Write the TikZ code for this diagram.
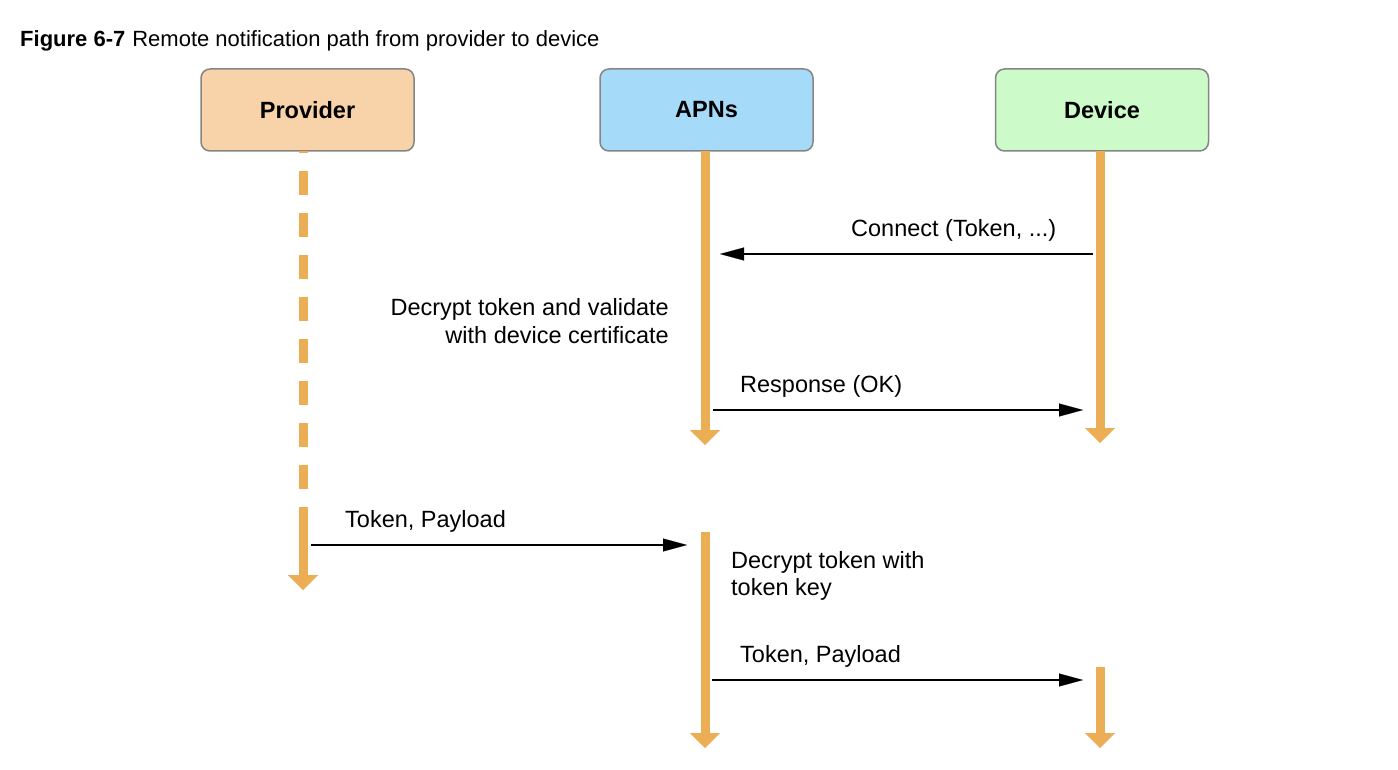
\documentclass[tikz,border=0pt]{standalone}
\usepackage{fontspec}
\setmainfont{Liberation Sans}
\usetikzlibrary{arrows.meta}
\definecolor{provfill}{HTML}{F8D2A8}
\definecolor{apnsfill}{HTML}{A6DAF9}
\definecolor{devfill}{HTML}{CCFBC9}
\definecolor{boxline}{HTML}{858585}
\definecolor{lifec}{HTML}{EBAE55}
\begin{document}
\begin{tikzpicture}[x=1pt,y=-1pt,
  actor/.style={draw=boxline,line width=1.5pt,rounded corners=9pt,minimum width=213pt,minimum height=82pt,inner sep=0pt,font=\fontsize{23.5}{28}\selectfont\bfseries},
  life/.style={draw=lifec,line width=9pt,-{Triangle[width=30pt,length=15pt,line width=0.1pt]}},
  dashlife/.style={draw=lifec,line width=9pt,dash pattern=on 24pt off 18pt,dash phase=22pt},
  msg/.style={draw=black,line width=2pt,-{Triangle[width=13pt,length=24pt,line width=0.1pt]}},
  lbl/.style={font=\fontsize{23.5}{28}\selectfont,inner sep=0pt},
  ttl/.style={font=\fontsize{22}{26}\selectfont,inner sep=0pt}]
\useasboundingbox (0,0) rectangle (1398,770);
\fill[white] (0,0) rectangle (1398,770);
% title
\node[ttl,anchor=base west] (title) at (20,47) {\textbf{Figure 6-7}\hspace{7pt}Remote notification path from provider to device};
% actors
\node[actor,fill=provfill] (prov) at (307.5,110) {Provider};
\node[actor,fill=apnsfill] (apns) at (706.5,110) {APNs};
\node[actor,fill=devfill] (dev) at (1102,110) {Device};
% lifeline coordinates
\coordinate (p0) at (303,151);
\coordinate (p1) at (303,490);
\coordinate (p2) at (303,507);
\coordinate (p3) at (303,590);
\coordinate (a0) at (705,151);
\coordinate (a1) at (705,445);
\coordinate (a2) at (705,532);
\coordinate (a3) at (705,748);
\coordinate (d0) at (1100,151);
\coordinate (d1) at (1100,443);
\coordinate (d2) at (1100,667);
\coordinate (d3) at (1100,748);
% lifelines
\draw[dashlife] (p0) -- (p1);
\draw[life] (p2) -- (p3);
\draw[life] (a0) -- (a1);
\draw[life] (a2) -- (a3);
\draw[life] (d0) -- (d1);
\draw[life] (d2) -- (d3);
% message end points
\coordinate (c0) at (1093,254);
\coordinate (c1) at (720,254);
\coordinate (r0) at (713,410);
\coordinate (r1) at (1083,410);
\coordinate (t0) at (311,545);
\coordinate (t1) at (687,545);
\coordinate (u0) at (712,680);
\coordinate (u1) at (1083,680);
% messages
\draw[msg] (c0) -- (c1);
\draw[msg] (r0) -- (r1);
\draw[msg] (t0) -- (t1);
\draw[msg] (u0) -- (u1);
% labels
\node[lbl,anchor=base west] (lc) at (851,237) {Connect (Token, ...)};
\node[lbl,anchor=base east] (ld1) at (669,315) {Decrypt token and validate};
\node[lbl,anchor=base east] (ld2) at (669,343) {with device certificate};
\node[lbl,anchor=base west] (lr) at (740,392) {Response (OK)};
\node[lbl,anchor=base west] (lt) at (345,527) {Token, Payload};
\node[lbl,anchor=base west] (le1) at (731,568) {Decrypt token with};
\node[lbl,anchor=base west] (le2) at (731,595) {token key};
\node[lbl,anchor=base west] (lu) at (740,662) {Token, Payload};
\end{tikzpicture}
\end{document}
